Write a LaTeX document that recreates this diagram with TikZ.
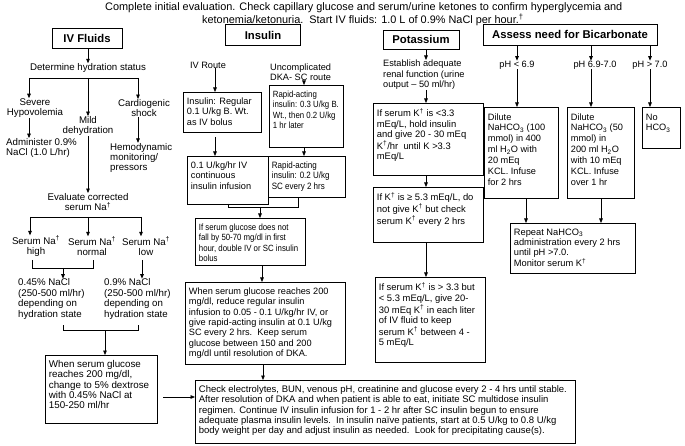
\documentclass[tikz,border=0pt]{standalone}
\usepackage{fontspec}
\setmainfont{Liberation Sans}
\newfontfamily\condf[FakeStretch=0.87]{Liberation Sans}
\usetikzlibrary{arrows.meta}
\newcommand\bodyf{\fontsize{9.2}{10.4}\selectfont}
\newcommand\labf{\fontsize{9.7}{10.4}\selectfont}
\newcommand\hdrf{\fontsize{11.3}{12}\selectfont\bfseries}
\newcommand\ttlf{\fontsize{10.9}{13}\selectfont}
% box content: width, height, font size, baselineskip, lines
\newcommand\mybx[5]{\parbox[c][\dimexpr#2pt-10pt\relax][t]{\dimexpr#1pt-7pt\relax}{\fontsize{#3}{#4}\selectfont\begin{tabular}[t]{@{}l@{}}#5\end{tabular}}}
\newcommand\mybxc[5]{\parbox[c][\dimexpr#2pt-10pt\relax][t]{\dimexpr#1pt-7pt\relax}{\condf\fontsize{#3}{#4}\selectfont\begin{tabular}[t]{@{}l@{}}#5\end{tabular}}}
\newcommand\dg{\textsuperscript{\dag}}
\begin{document}
\begin{tikzpicture}[x=1pt,y=-1pt,
  box/.style={draw, line width=0.8pt, inner xsep=3.5pt, inner ysep=5pt, anchor=north west, font=\bodyf},
  txt/.style={inner sep=0pt, align=center, font=\labf},
  ltxt/.style={inner sep=0pt, align=left, font=\labf},
  hdr/.style={draw, line width=0.9pt, font=\hdrf, inner sep=0pt},
  arr/.style={-{Triangle[width=3.6pt,length=4.5pt]}, line width=0.7pt},
  ln/.style={line width=0.7pt}]
\fill[white] (0,0) rectangle (685,446);
\path[use as bounding box] (0,0) rectangle (685,446);

% title
\node[inner sep=0pt, align=left, font=\ttlf, anchor=west] (title) at (105,14)
  {Complete initial evaluation. Check capillary glucose and serum/urine ketones to confirm hyperglycemia and\\
   \hspace*{97pt}ketonemia/ketonuria.\ \ Start IV fluids: 1.0 L of 0.9\% NaCl per hour.\dg};

% headers
\node[hdr, minimum width=70pt, minimum height=20pt] (ivf) at (87,38) {IV Fluids};
\node[hdr, minimum width=75pt, minimum height=21pt] (ins) at (263,35) {Insulin};
\node[hdr, minimum width=76pt, minimum height=19pt] (pot) at (421,39.5) {Potassium};
\node[hdr, minimum width=174pt, minimum height=21pt] (bic) at (570,34.5) {Assess need for Bicarbonate};

% ---------------- IV fluids column
\node[txt] (det) at (88,68) {Determine hydration status};
\coordinate (hL) at (29,78);
\coordinate (hR) at (138,78);
\draw[ln] (hL) -- (hR);
\node[txt] (sev) at (35,108) {Severe\\Hypovolemia};
\node[txt] (mild) at (88,126) {Mild\\dehydration};
\node[txt] (card) at (144,108) {Cardiogenic\\shock};
\node[ltxt, anchor=west] (adm) at (6,148) {Administer 0.9\%\\NaCl (1.0 L/hr)};
\node[ltxt, anchor=west] (hemo) at (110,158) {Hemodynamic\\monitoring/\\pressors};
\node[txt] (eval) at (88,202) {Evaluate corrected\\serum Na\dg};
\coordinate (nL) at (30,217);
\coordinate (nM) at (88,217);
\coordinate (nR) at (141,217);
\draw[ln] (nL) -- (nR);
\node[txt] (nah) at (36,246) {Serum Na\dg\\high};
\node[txt] (nan) at (92,246) {Serum Na\dg\\normal};
\node[txt] (nal) at (146,246) {Serum Na\dg\\low};
\node[ltxt, anchor=west] (s045) at (18,299) {0.45\% NaCl\\(250-500 ml/hr)\\depending on\\hydration state};
\node[ltxt, anchor=west] (s09) at (104,299) {0.9\% NaCl\\(250-500 ml/hr)\\depending on\\hydration state};
\node[box] (G) at (45,355) {\mybx{112}{68}{9.8}{10.3}{When serum glucose\\reaches 200 mg/dl,\\change to 5\% dextrose\\with 0.45\% NaCl at\\150-250 ml/hr}};

\draw[arr] (ivf.south -| det.north) -- (det.north);
\draw[arr] (hL) -- (hL |- sev.north);
\draw[arr] (hR) -- (hR |- card.north);
\draw[arr] (hL -| mild.north) -- (mild.north);
\draw[arr] (sev.south -| hL) -- (adm.north -| hL);
\draw[arr] (card.south -| hR) -- (hemo.north -| hR);
\draw[arr] (mild.south) -- (eval.north);
\draw[arr] (nL) -- (nL |- nah.north);
\draw[arr] (nM) -- (nM |- nan.north);
\draw[arr] (nR) -- (nR |- nal.north);
\coordinate (b1l) at (32,260);
\coordinate (b1r) at (93,260);
\coordinate (b1m) at (63,268);
\draw[ln] (b1l) -- (b1l |- b1m) -- (b1r |- b1m) -- (b1r);
\draw[arr] (b1m) -- (b1m |- s045.north);
\coordinate (lowx) at (142,260);
\draw[arr] (lowx) -- (lowx |- s09.north);
\coordinate (b2l) at (63,325);
\coordinate (b2r) at (138,325);
\coordinate (b2m) at (105,330);
\draw[ln] (b2l) -- (b2l |- b2m) -- (b2r |- b2m) -- (b2r);
\draw[arr] (b2m) -- (b2m |- G.north);

% ---------------- Insulin column
\node[txt, font=\bodyf] (ivr) at (208,65) {IV Route};
\node[ltxt, anchor=west, font=\bodyf] (unc) at (270,72) {Uncomplicated\\DKA- SC route};
\node[box] (I1) at (183,92) {\mybx{78}{40}{9.2}{10.3}{Insulin: Regular\\0.1 U/kg B. Wt.\\as IV bolus}};
\node[box] (I2) at (269,85) {\mybxc{74}{62}{9}{10.3}{Rapid-acting\\insulin: 0.3 U/kg B.\\Wt., then 0.2 U/kg\\1 hr later}};
\node[box] (I3) at (187,156) {\mybx{81}{48}{9.2}{10.3}{0.1 U/kg/hr IV\\continuous\\insulin infusion}};
\node[box] (I4) at (268,156) {\mybxc{77}{41}{9.2}{10.3}{Rapid-acting\\insulin: 0.2 U/kg\\SC every 2 hrs}};
\node[box] (I5) at (195,218) {\mybxc{110}{47}{9}{10.3}{If serum glucose does not\\fall by 50-70 mg/dl in first\\hour, double IV or SC insulin\\bolus}};
\node[box] (I6) at (185,282) {\mybx{160}{82}{9.2}{10.3}{When serum glucose reaches 200\\mg/dl, reduce regular insulin\\infusion to 0.05 - 0.1 U/kg/hr IV, or\\give rapid-acting insulin at 0.1 U/kg\\SC every 2 hrs.\ \ Keep serum\\glucose between 150 and 200\\mg/dl until resolution of DKA.}};

\coordinate (c215) at (215,0);
\coordinate (c304) at (304,0);
\draw[arr] (ivr.south -| c215) -- (I1.north -| c215);
\draw[arr] (unc.south -| c304) -- (I2.north -| c304);
\draw[arr, shorten <=4pt] (I1.south -| c215) -- (I3.north -| c215);
\draw[arr] (I2.south -| c304) -- (I4.north -| c304);
\coordinate (bl) at (228,204);
\coordinate (br) at (298,197);
\coordinate (bm) at (260,207);
\draw[ln] (bl) -- (bl |- bm) -- (br |- bm) -- (br);
\draw[arr] (bm) -- (bm |- I5.north);
\coordinate (c262) at (262,0);
\draw[arr] (I5.south -| c262) -- (I6.north -| c262);

% ---------------- Potassium column
\node[ltxt, anchor=north west, font=\bodyf] (est) at (383,60) {Establish adequate\\renal function (urine\\output -- 50 ml/hr)};
\node[box] (K1) at (373,103) {\mybx{110}{72}{9.4}{10.4}{If serum K\dg{} is <3.3\\mEq/L, hold insulin\\and give 20 - 30 mEq\\K\dg/hr\ \ until K >3.3\\mEq/L}};
\node[box] (K2) at (373,187) {\mybx{110}{55}{9.4}{10.4}{If K\dg{} is ≥ 5.3 mEq/L, do\\not give K\dg{} but check\\serum K\dg{} every 2 hrs}};
\node[box] (K3) at (375,277) {\mybx{110}{85}{9.4}{10.4}{If serum K\dg{} is > 3.3 but\\< 5.3 mEq/L, give 20-\\30 mEq K\dg{} in each liter\\of IV fluid to keep\\serum K\dg{} between 4 -\\5 mEq/L}};
\coordinate (c426) at (426,0);
\draw[arr] (pot.south -| c426) -- (est.north -| c426);
\draw[arr] (est.south -| c426) -- (K1.north -| c426);
\draw[arr] (K1.south -| c426) -- (K2.north -| c426);
\draw[arr] (K2.south -| c426) -- (K3.north -| c426);

% ---------------- Bicarbonate column
\node[txt, font=\bodyf] (ph1) at (517,65) {pH < 6.9};
\node[txt, font=\bodyf] (ph2) at (595,65) {pH 6.9-7.0};
\node[txt, font=\bodyf] (ph3) at (650,65) {pH > 7.0};
\node[box] (B1) at (484,107) {\mybx{74}{91}{9.2}{10.9}{Dilute\\NaHCO\textsubscript{3} (100\\mmol) in 400\\ml H\textsubscript{2}O with\\20 mEq\\KCL. Infuse\\for 2 hrs}};
\node[box] (B2) at (567,107) {\mybx{67}{91}{9.2}{10.9}{Dilute\\NaHCO\textsubscript{3} (50\\mmol) in\\200 ml H\textsubscript{2}O\\with 10 mEq\\KCL. Infuse\\over 1 hr}};
\node[box] (B3) at (642,107) {\mybx{38}{41}{9.2}{10.9}{No\\HCO\textsubscript{3}}};
\node[box] (R) at (510,223) {\mybx{125}{50}{9.3}{10}{Repeat NaHCO\textsubscript{3}\\administration every 2 hrs\\until pH >7.0.\\Monitor serum K\dg}};
\coordinate (x517) at (517,0);
\coordinate (x591) at (591,0);
\coordinate (x650) at (650,0);
\draw[arr] (bic.south -| x517) -- (ph1.north -| x517);
\draw[arr] (bic.south -| x591) -- (ph2.north -| x591);
\draw[arr] (bic.south -| x650) -- (ph3.north -| x650);
\draw[arr] (ph1.south -| x517) -- (B1.north -| x517);
\draw[arr] (ph2.south -| x591) -- (B2.north -| x591);
\draw[arr] (ph3.south -| x650) -- (B3.north -| x650);
\coordinate (x526) at (526,0);
\coordinate (x601) at (601,0);
\draw[arr] (B1.south -| x526) -- (R.north -| x526);
\draw[arr] (B2.south -| x601) -- (R.north -| x601);

% ---------------- final box
\node[box] (F) at (195,380) {\mybx{380}{63}{9.5}{10.3}{Check electrolytes, BUN, venous pH, creatinine and glucose every 2 - 4 hrs until stable.\\After resolution of DKA and when patient is able to eat, initiate SC multidose insulin\\regimen. Continue IV insulin infusion for 1 - 2 hr after SC insulin begun to ensure\\adequate plasma insulin levels.\ \ In insulin naïve patients, start at 0.5 U/kg to 0.8 U/kg\\body weight per day and adjust insulin as needed.\ \ Look for precipitating cause(s).}};
\coordinate (ga) at (163,397);
\draw[arr] (ga) -- (ga -| F.west);
\coordinate (c263) at (263,0);
\draw[arr] (I6.south -| c263) -- (F.north -| c263);
\end{tikzpicture}
\end{document}
